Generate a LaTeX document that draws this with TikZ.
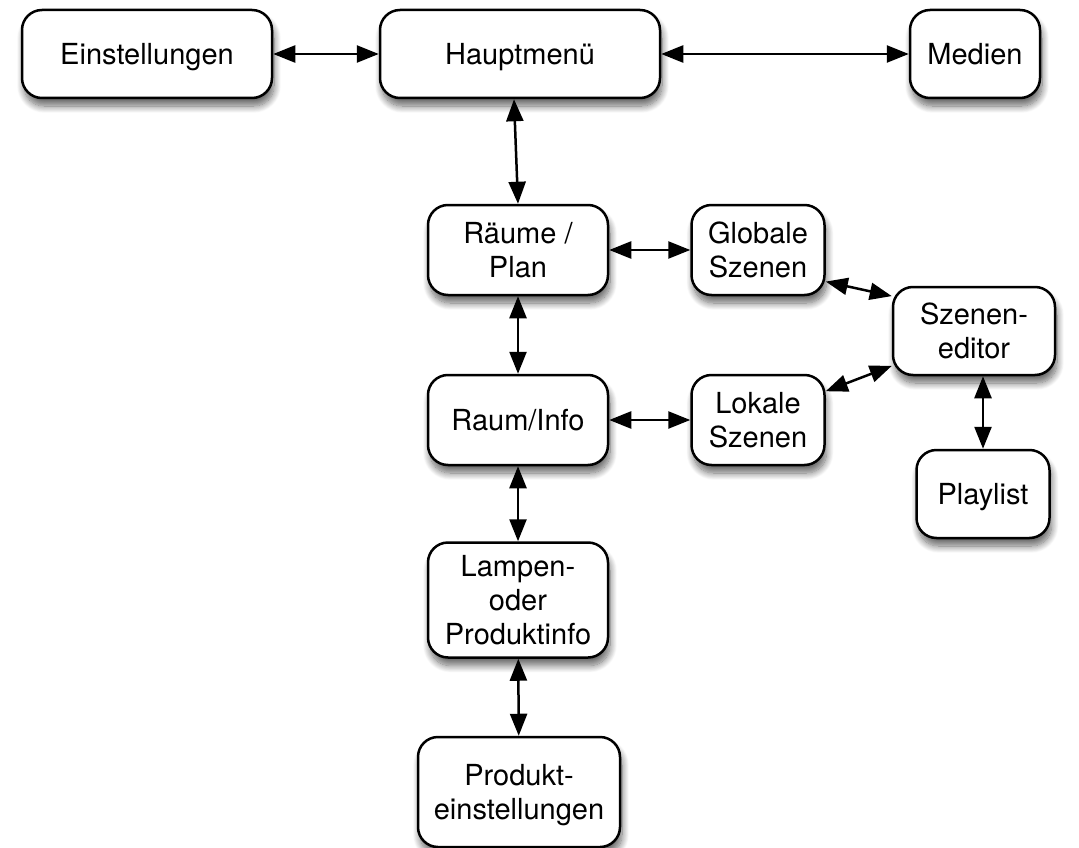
\documentclass[tikz,border=0pt]{standalone}
\usepackage{fontspec}
\setmainfont{TeX Gyre Heros}
\usetikzlibrary{arrows.meta,shadows.blur}
\begin{document}
\begin{tikzpicture}[x=1pt,y=-1pt,
  box/.style={draw=black, line width=2.5pt, fill=white, rounded corners=20pt,
    align=center, inner sep=0pt, text depth=0pt,
    font=\fontsize{29}{34}\selectfont,
    blur shadow={shadow xshift=2pt, shadow yshift=-8pt, shadow blur steps=12, shadow blur radius=7pt, shadow opacity=60}},
  link/.style={line width=2.5pt, {Triangle[length=22pt,width=17pt]}-{Triangle[length=22pt,width=17pt]}}
]
\useasboundingbox (0,0) rectangle (1079,848);
\node[box, minimum width=250pt, minimum height=88pt] (einst) at (147,54) {Einstellungen};
\node[box, minimum width=280pt, minimum height=88pt] (haupt) at (520,54) {Hauptmenü};
\node[box, minimum width=130pt, minimum height=88pt] (medien) at (975,54) {Medien};
\node[box, minimum width=180pt, minimum height=90pt] (raeume) at (518,250) {Räume /\\Plan};
\node[box, minimum width=133pt, minimum height=90pt] (glob) at (758,250) {Globale\\Szenen};
\node[box, minimum width=162pt, minimum height=88pt] (szen) at (974,331) {Szenen-\\editor};
\node[box, minimum width=133pt, minimum height=90pt] (lok) at (758,420) {Lokale\\Szenen};
\node[box, minimum width=180pt, minimum height=90pt] (raum) at (518,420) {Raum/Info};
\node[box, minimum width=133pt, minimum height=88pt] (play) at (983,494) {Playlist};
\node[box, minimum width=180pt, minimum height=115pt] (lampe) at (518,600) {Lampen-\\oder\\Produktinfo};
\node[box, minimum width=202pt, minimum height=110pt] (prod) at (519,792) {Produkt-\\einstellungen};

\draw[link] (einst) -- (haupt);
\draw[link] (haupt) -- (medien);
\draw[link] ([xshift=-6pt]haupt.south) -- (raeume.north);
\draw[link] (raeume) -- (glob);
\draw[link] (raum) -- (lok);
\draw[link] (raeume) -- (raum);
\draw[link] (raum) -- (lampe);
\draw[link] (lampe) -- (prod);
\draw[link] (glob.-25) -- (szen.157);
\draw[link] (lok.23) -- (szen.-157);
\draw[link] (szen.south -| play.north) -- (play.north);
\end{tikzpicture}
\end{document}
